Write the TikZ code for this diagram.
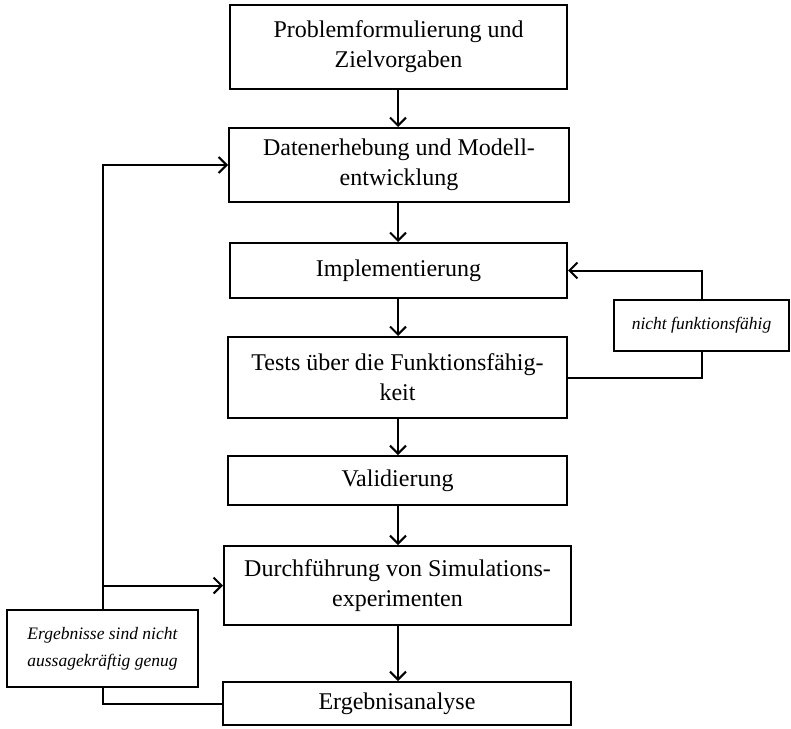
\documentclass[tikz,border=0pt]{standalone}
\usepackage{fontspec}
\setmainfont{Liberation Serif}
\usetikzlibrary{arrows.meta}
\begin{document}
\begin{tikzpicture}[x=1pt,y=-1pt,
  mainbox/.style={draw, line width=2pt, rectangle, align=center, inner sep=0pt,
    font=\fontsize{24}{30}\selectfont},
  sidebox/.style={draw, line width=2pt, rectangle, align=left, inner sep=0pt,
    font=\fontsize{17.5}{27}\selectfont\itshape},
  conn/.style={line width=2pt},
  arr/.style={line width=2pt, -{Straight Barb[length=8pt,width=16pt,line width=2pt]}}]
\useasboundingbox (0,0) rectangle (791,728);
\node[mainbox, minimum width=337pt, minimum height=84pt] (b1) at (398.5,47) {Problemformulierung und\\Zielvorgaben};
\node[mainbox, minimum width=340pt, minimum height=74pt] (b2) at (399,165) {Datenerhebung und Modell-\\entwicklung};
\node[mainbox, minimum width=337pt, minimum height=55pt] (b3) at (398.5,270.5) {Implementierung};
\node[mainbox, minimum width=339pt, minimum height=81pt] (b4) at (397.5,377.5) {Tests über die Funktionsfähig-\\keit};
\node[mainbox, minimum width=339pt, minimum height=49pt] (b5) at (397.5,480.5) {Validierung};
\node[mainbox, minimum width=347pt, minimum height=79pt] (b6) at (397.5,585.5) {Durchführung von Simulations-\\experimenten};
\node[mainbox, minimum width=348pt, minimum height=43pt] (b7) at (397,703.5) {Ergebnisanalyse};
\node[sidebox, minimum width=175pt, minimum height=51pt] (n1) at (701.5,325.5) {nicht funktionsfähig};
\node[sidebox, minimum width=191pt, minimum height=77pt] (n2) at (102.5,648.5) {Ergebnisse sind nicht\\aussagekräftig genug};
\draw[arr] (b1.south -| 398,0) -- (b2.north -| 398,0);
\draw[arr] (b2.south -| 398,0) -- (b3.north -| 398,0);
\draw[arr] (b3.south -| 398,0) -- (b4.north -| 398,0);
\draw[arr] (b4.south -| 398,0) -- (b5.north -| 398,0);
\draw[arr] (b5.south -| 398,0) -- (b6.north -| 398,0);
\draw[arr] (b6.south -| 398,0) -- (b7.north -| 398,0);
\draw[conn] (b4.east) -| (n1.south);
\draw[arr] (n1.north) |- (b3.east);
\draw[conn] (b7.west) -| (n2.south);
\draw[arr] (n2.north) |- (b2.west);
\coordinate (br) at (n2.north |- b6.west);
\draw[arr] (br) -- (b6.west);
\end{tikzpicture}
\end{document}
